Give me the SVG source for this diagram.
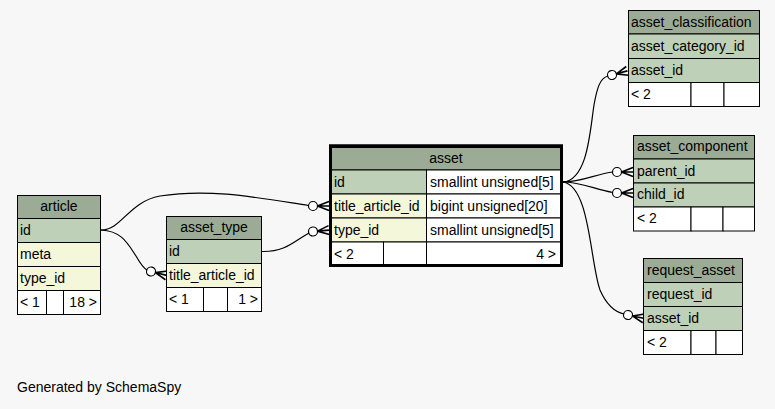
<svg xmlns="http://www.w3.org/2000/svg" xmlns:xlink="http://www.w3.org/1999/xlink" width="775" height="409" viewBox="0 0 775 409">
<style>
text{font-family:"Liberation Sans",Arial,Helvetica,sans-serif;font-size:14px;fill:#000}
.c{text-anchor:middle}
.r{text-anchor:end}
.hd{fill:#9bab96;stroke:#000;stroke-width:1}
.pk{fill:#bed1b8;stroke:#000;stroke-width:1}
.ix{fill:#f4f7da;stroke:#000;stroke-width:1}
.wt{fill:#ffffff;stroke:#000;stroke-width:1}
.edge{fill:none;stroke:#000;stroke-width:1.2}
.cap circle{fill:#fff;stroke:#000;stroke-width:1.2}
.cap path{fill:none;stroke:#000;stroke-width:1.6}
</style>
<defs>
<g id="crowodot" class="cap">
<circle cx="0" cy="0" r="4.5"/>
<path d="M4.5,0 L16,-4.5 M4.5,0 L16,0 M4.5,0 L16,4.5"/>
</g>
</defs>
<rect x="0" y="0" width="775" height="409" fill="#f7f7f7"/>

<g id="connectors">
<path class="edge" d="M101,230 C122,230 128,202 160,196 C210,188 260,198 308.5,205.5"/>
<path class="edge" d="M101,230 C122,231 128,244 136,256 C140,263 143,268 147,270"/>
<path class="edge" d="M262,251.5 C286,252 294,241 309,233"/>
<path class="edge" d="M563,182 C588,180 590,130 594,105 C597,88 600,78 608,76"/>
<path class="edge" d="M563,182 C582,182 596,174 613,172"/>
<path class="edge" d="M563,182 C582,182 596,190 613,192.5"/>
<path class="edge" d="M563,182 C590,186 590,262 600,290 C607,306 615,312 624,314"/>
<use xlink:href="#crowodot" transform="translate(313,206)"/>
<use xlink:href="#crowodot" transform="translate(313,231.5) rotate(-5)"/>
<use xlink:href="#crowodot" transform="translate(151,271.5) rotate(14)"/>
<use xlink:href="#crowodot" transform="translate(612,75) rotate(-15)"/>
<use xlink:href="#crowodot" transform="translate(617,172)"/>
<use xlink:href="#crowodot" transform="translate(617,193)"/>
<use xlink:href="#crowodot" transform="translate(628,315) rotate(12)"/>
</g>

<g id="article">
<rect class="hd" x="17.5" y="195.5" width="83" height="23"/>
<rect class="pk" x="17.5" y="218.5" width="83" height="24"/>
<rect class="ix" x="17.5" y="242.5" width="83" height="24"/>
<rect class="ix" x="17.5" y="266.5" width="83" height="24"/>
<rect class="wt" x="17.5" y="290.5" width="29" height="24"/>
<rect class="wt" x="46.5" y="290.5" width="17" height="24"/>
<rect class="wt" x="63.5" y="290.5" width="37" height="24"/>
<text class="c" x="59" y="211">article</text>
<text x="20" y="235">id</text>
<text x="20" y="259">meta</text>
<text x="20" y="283">type_id</text>
<text x="20" y="307">&lt; 1</text>
<text class="r" x="97" y="307">18 &gt;</text>
</g>

<g id="asset_type">
<rect class="hd" x="166.5" y="216.5" width="95" height="23"/>
<rect class="pk" x="166.5" y="239.5" width="95" height="24"/>
<rect class="ix" x="166.5" y="263.5" width="95" height="24"/>
<rect class="wt" x="166.5" y="287.5" width="37" height="24"/>
<rect class="wt" x="203.5" y="287.5" width="24" height="24"/>
<rect class="wt" x="227.5" y="287.5" width="34" height="24"/>
<text class="c" x="214" y="232">asset_type</text>
<text x="169" y="256">id</text>
<text x="169" y="280">title_article_id</text>
<text x="169" y="304">&lt; 1</text>
<text class="r" x="258" y="304">1 &gt;</text>
</g>

<g id="asset">
<rect x="330.5" y="146" width="231" height="119.5" fill="none" stroke="#000" stroke-width="3"/>
<rect class="hd" x="331.5" y="147.5" width="229" height="22.5"/>
<rect class="pk" x="331.5" y="170" width="95" height="24"/>
<rect class="wt" x="426.5" y="170" width="134" height="24"/>
<rect class="ix" x="331.5" y="194" width="95" height="24"/>
<rect class="wt" x="426.5" y="194" width="134" height="24"/>
<rect class="ix" x="331.5" y="218" width="95" height="24"/>
<rect class="wt" x="426.5" y="218" width="134" height="24"/>
<rect class="wt" x="331.5" y="242" width="52" height="23"/>
<rect class="wt" x="383.5" y="242" width="43" height="23"/>
<rect class="wt" x="426.5" y="242" width="134" height="23"/>
<rect x="330.5" y="146" width="231" height="119.5" fill="none" stroke="#000" stroke-width="3"/>
<text class="c" x="446" y="163">asset</text>
<text x="334" y="187">id</text>
<text x="430" y="187">smallint unsigned[5]</text>
<text x="334" y="211">title_article_id</text>
<text x="430" y="211">bigint unsigned[20]</text>
<text x="334" y="235">type_id</text>
<text x="430" y="235">smallint unsigned[5]</text>
<text x="334" y="259">&lt; 2</text>
<text class="r" x="556" y="259">4 &gt;</text>
</g>

<g id="asset_classification">
<rect class="hd" x="628.5" y="10.5" width="131" height="23.5"/>
<rect class="pk" x="628.5" y="34" width="131" height="24.5"/>
<rect class="pk" x="628.5" y="58.5" width="131" height="24"/>
<rect class="wt" x="628.5" y="82.5" width="62.5" height="24"/>
<rect class="wt" x="691" y="82.5" width="33" height="24"/>
<rect class="wt" x="724" y="82.5" width="35.5" height="24"/>
<text x="631" y="27">asset_classification</text>
<text x="631" y="51">asset_category_id</text>
<text x="631" y="75">asset_id</text>
<text x="631" y="99">&lt; 2</text>
</g>

<g id="asset_component">
<rect class="hd" x="633.5" y="135.5" width="121" height="23.5"/>
<rect class="pk" x="633.5" y="159" width="121" height="24"/>
<rect class="pk" x="633.5" y="183" width="121" height="24"/>
<rect class="wt" x="633.5" y="207" width="57.5" height="24"/>
<rect class="wt" x="691" y="207" width="32" height="24"/>
<rect class="wt" x="723" y="207" width="31.5" height="24"/>
<text x="637" y="151">asset_component</text>
<text x="637" y="176">parent_id</text>
<text x="637" y="199">child_id</text>
<text x="637" y="223">&lt; 2</text>
</g>

<g id="request_asset">
<rect class="hd" x="643.5" y="258.5" width="99" height="24"/>
<rect class="pk" x="643.5" y="282.5" width="99" height="24"/>
<rect class="pk" x="643.5" y="306.5" width="99" height="24"/>
<rect class="wt" x="643.5" y="330.5" width="47.5" height="24"/>
<rect class="wt" x="691" y="330.5" width="25" height="24"/>
<rect class="wt" x="716" y="330.5" width="26.5" height="24"/>
<text x="647" y="275">request_asset</text>
<text x="647" y="299">request_id</text>
<text x="647" y="323">asset_id</text>
<text x="647" y="347">&lt; 2</text>
</g>

<text x="17" y="392">Generated by SchemaSpy</text>
</svg>
